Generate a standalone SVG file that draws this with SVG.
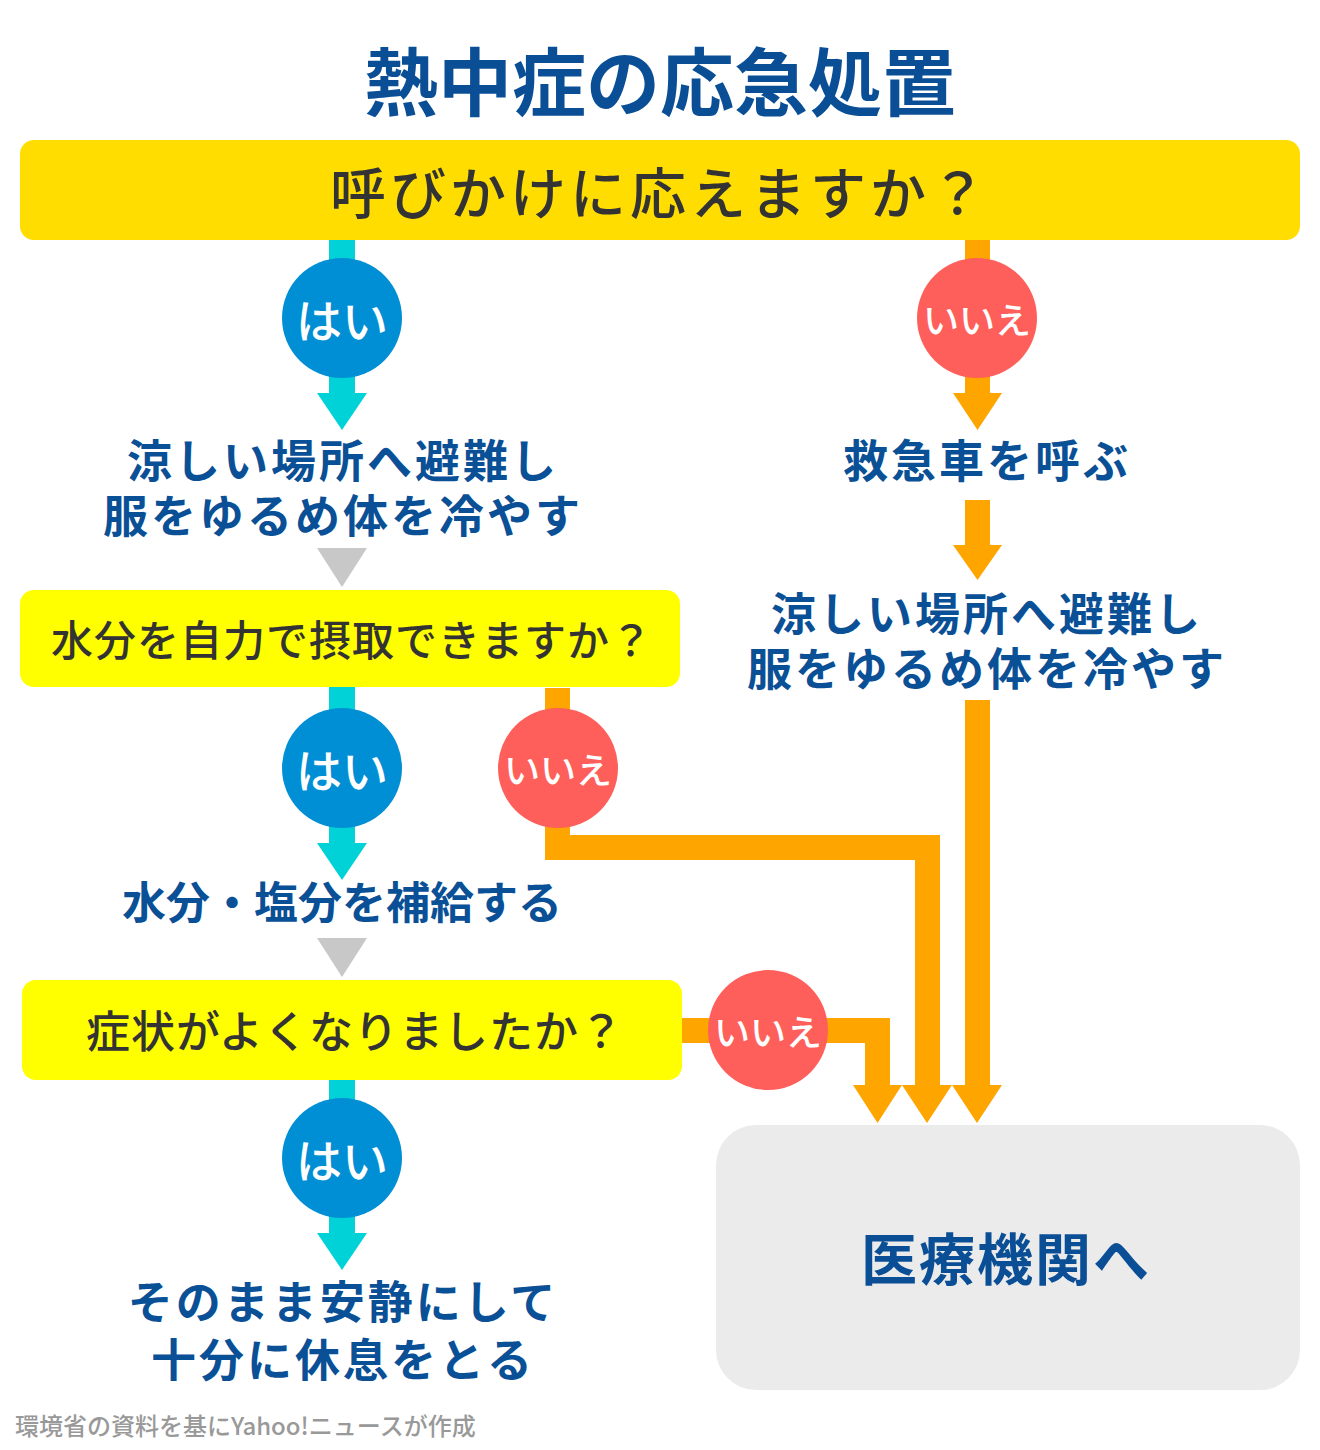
<svg xmlns="http://www.w3.org/2000/svg" width="1320" height="1450" viewBox="0 0 1320 1450">
<style>
text{font-family:"Noto Sans CJK JP","Noto Sans",sans-serif;text-anchor:middle;dominant-baseline:central}
.t{fill:#0a4f96;font-weight:700}
.q{fill:#333;font-weight:500}
.b{fill:#0a5096;font-weight:700;font-size:45px;letter-spacing:3px}
.yes{fill:#008fd5}
.no{fill:#ff5f5a}
.ct{fill:#fff;font-weight:500}
.cy{fill:#00d2d8}
.or{fill:#ffa500}
.gr{fill:#c8c8c8}
</style>
<rect width="1320" height="1450" fill="#fff"/>
<text class="t" x="660" y="77" font-size="74">熱中症の応急処置</text>

<g id="connectors">
<rect class="cy" x="329" y="238" width="26" height="40"/>
<rect class="cy" x="329" y="360" width="26" height="34"/>
<polygon class="cy" points="317,393 367,393 342,430"/>
<polygon class="gr" points="317,548 367,548 342,587"/>
<rect class="cy" x="329" y="686" width="26" height="40"/>
<rect class="cy" x="329" y="810" width="26" height="34"/>
<polygon class="cy" points="317,843 367,843 342,880"/>
<polygon class="gr" points="317,938 367,938 342,977"/>
<rect class="cy" x="329" y="1078" width="26" height="40"/>
<rect class="cy" x="329" y="1200" width="26" height="34"/>
<polygon class="cy" points="317,1233 367,1233 342,1270"/>
<rect class="or" x="965" y="238" width="25" height="40"/>
<rect class="or" x="965" y="360" width="25" height="34"/>
<polygon class="or" points="953,393 1002,393 977.5,430"/>
<rect class="or" x="965" y="500" width="25" height="46"/>
<polygon class="or" points="953,545 1002,545 977.5,580"/>
<rect class="or" x="965" y="700" width="25" height="386"/>
<polygon class="or" points="952,1085 1002,1085 977,1123"/>
<path class="or" d="M545,688 H570 V835 H940 V1086 H915 V860 H545 Z"/>
<polygon class="or" points="902,1085 952,1085 927,1123"/>
<path class="or" d="M680,1018 H890 V1086 H865 V1043 H680 Z"/>
<polygon class="or" points="853,1085 902,1085 877.5,1123"/>
</g>

<g id="q1">
<rect x="20" y="140" width="1280" height="100" rx="14" fill="#ffdd00"/>
<text class="q" x="660" y="189" font-size="56" letter-spacing="4">呼びかけに応えますか？</text>
</g>
<g id="yes1"><circle class="yes" cx="342" cy="318" r="60"/><text class="ct" x="342" y="318" font-size="46">はい</text></g>
<g id="no1"><circle class="no" cx="977" cy="318" r="60"/><text class="ct" x="977" y="318" font-size="36">いいえ</text></g>
<g id="a1"><text class="b" x="343" y="458">涼しい場所へ避難し</text><text class="b" x="343" y="513">服をゆるめ体を冷やす</text></g>
<g id="call"><text class="b" x="987" y="458">救急車を呼ぶ</text></g>
<g id="a2"><text class="b" x="987" y="611">涼しい場所へ避難し</text><text class="b" x="987" y="666">服をゆるめ体を冷やす</text></g>

<g id="q2">
<rect x="20" y="590" width="660" height="97" rx="14" fill="#ffff00"/>
<text class="q" x="352" y="637" font-size="42" letter-spacing="1">水分を自力で摂取できますか？</text>
</g>
<g id="yes2"><circle class="yes" cx="342" cy="768" r="60"/><text class="ct" x="342" y="768" font-size="46">はい</text></g>
<g id="no2"><circle class="no" cx="558" cy="768" r="60"/><text class="ct" x="558" y="768" font-size="36">いいえ</text></g>
<g id="a3"><text class="b" x="342" y="900" style="font-size:44px;letter-spacing:0">水分・塩分を補給する</text></g>

<g id="q3">
<rect x="22" y="980" width="660" height="100" rx="14" fill="#ffff00"/>
<text class="q" x="355" y="1029" font-size="44" letter-spacing="1">症状がよくなりましたか？</text>
</g>
<g id="no3"><circle class="no" cx="768" cy="1030" r="60"/><text class="ct" x="768" y="1030" font-size="36">いいえ</text></g>
<g id="yes3"><circle class="yes" cx="342" cy="1158" r="60"/><text class="ct" x="342" y="1158" font-size="46">はい</text></g>
<g id="a4"><text class="b" x="343" y="1299">そのまま安静にして</text><text class="b" x="343" y="1357">十分に休息をとる</text></g>

<g id="hospital">
<rect x="716" y="1125" width="584" height="265" rx="40" fill="#ebebeb"/>
<text class="t" x="1006" y="1255" font-size="56" letter-spacing="2">医療機関へ</text>
</g>

<text x="15" y="1424" font-size="24" fill="#999" font-weight="500" style="text-anchor:start">環境省の資料を基にYahoo!ニュースが作成</text>
</svg>
